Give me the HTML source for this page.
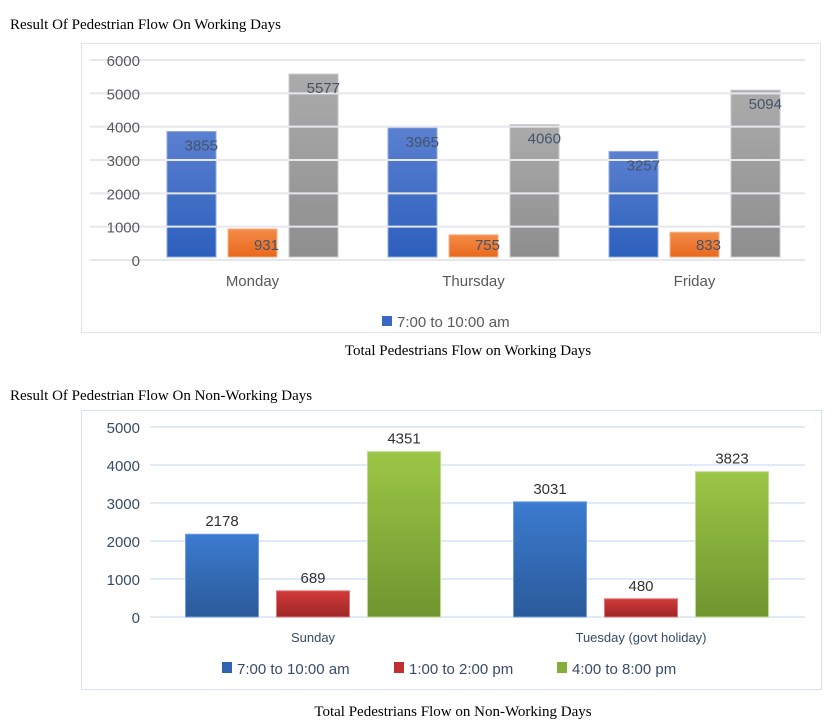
<!DOCTYPE html>
<html><head><meta charset="utf-8"><style>
html,body{margin:0;padding:0;background:#fff;width:838px;height:727px;overflow:hidden}
svg text{font-family:"Liberation Sans",sans-serif}
.serif{font-family:"Liberation Serif",serif!important}
</style></head><body>
<svg id="s" width="838" height="727">
<defs>
<linearGradient id="gBlue" x1="0" y1="0" x2="0" y2="1"><stop offset="0" stop-color="#5b80d0"/><stop offset="1" stop-color="#2c5fbc"/></linearGradient>
<linearGradient id="gOrange" x1="0" y1="0" x2="0" y2="1"><stop offset="0" stop-color="#f48c48"/><stop offset="1" stop-color="#e8681c"/></linearGradient>
<linearGradient id="gGray" x1="0" y1="0" x2="0" y2="1"><stop offset="0" stop-color="#ababab"/><stop offset="1" stop-color="#8e8e8e"/></linearGradient>
<linearGradient id="gBlue2" x1="0" y1="0" x2="0" y2="1"><stop offset="0" stop-color="#3c7bd0"/><stop offset="1" stop-color="#2a5a9a"/></linearGradient>
<linearGradient id="gRed" x1="0" y1="0" x2="0" y2="1"><stop offset="0" stop-color="#d23a3a"/><stop offset="1" stop-color="#9e2626"/></linearGradient>
<linearGradient id="gGreen" x1="0" y1="0" x2="0" y2="1"><stop offset="0" stop-color="#9cc646"/><stop offset="1" stop-color="#6f9530"/></linearGradient>
</defs>
<text class="serif" x="10" y="29" font-size="15" fill="#000">Result Of Pedestrian Flow On Working Days</text>
<rect x="81.5" y="43.5" width="739" height="289" fill="#fff" stroke="#dfe3ea"/>
<text class="serif" x="468" y="355" font-size="15" text-anchor="middle">Total Pedestrians Flow on Working Days</text>
<text class="serif" x="10" y="400" font-size="15">Result Of Pedestrian Flow On Non-Working Days</text>
<rect x="81.5" y="410.5" width="740" height="279" fill="#fff" stroke="#d6e3f2"/>
<text class="serif" x="453" y="716" font-size="15" text-anchor="middle">Total Pedestrians Flow on Non-Working Days</text>
<g id="c1"></g><g id="c2"></g>
</svg>
<script>
// Chart 1 data
const cats1 = ["Monday","Thursday","Friday"];
const morning1 = [3855,3965,3257];
const noon1 = [931,755,833];
const evening1 = [5577,4060,5094];
const ticks1 = [0,1000,2000,3000,4000,5000,6000];
// Chart 2 data
const cats2 = ["Sunday","Tuesday (govt holiday)"];
const morning2 = [2178,3031];
const noon2 = [689,480];
const evening2 = [4351,3823];
const ticks2 = [0,1000,2000,3000,4000,5000];
const legend2 = ["7:00 to 10:00 am","1:00 to 2:00 pm","4:00 to 8:00 pm"];

const NS="http://www.w3.org/2000/svg";
function mk(p,t,a){const e=document.createElementNS(NS,t);for(const k in a)e.setAttribute(k,a[k]);p.appendChild(e);return e;}

// chart 1
(function(){
const g=document.getElementById('c1');
const x0=142,x1=805,y0=260,ymax=6000,h=200;
const y=v=>y0-v/ymax*h;
const band=(x1-x0)/cats1.length;
const bw=49,gap=61;
const series=[[morning1,'url(#gBlue)','#8fa9df'],[noon1,'url(#gOrange)','#f7b18a'],[evening1,'url(#gGray)','#c8c8c8']];
cats1.forEach((c,i)=>{
  const cx=x0+band*(i+0.5);
  series.forEach((s,j)=>{
    const v=s[0][i];const bx=cx+(j-1)*gap-bw/2;
    const r=mk(g,'rect',{x:bx,y:y(v),width:bw,height:y0-3-y(v),fill:s[1],stroke:s[2],'stroke-width':1});
    
    
  });
});
ticks1.forEach(t=>{
  const l=mk(g,'line',{x1:90,x2:x1,y1:y(t),y2:y(t),stroke:'#e6e8ee','stroke-width':2});
  
  
  const tx=mk(g,'text',{x:140,y:y(t)+6,'font-size':15,'text-anchor':'end',fill:'#595959'});tx.textContent=t;
  
  
});
cats1.forEach((c,i)=>{
  const cx=x0+band*(i+0.5);
  series.forEach((s,j)=>{
    const v=s[0][i];const bx=cx+(j-1)*gap-bw/2;
    const ly=j===1?y0-10:y(v)+19;
    const tx=mk(g,'text',{x:bx+bw+2,y:ly,'font-size':15,'text-anchor':'end',fill:'#44546a'});tx.textContent=v;
    
    
  });
  const tx=mk(g,'text',{x:cx,y:286,'font-size':15,'text-anchor':'middle',fill:'#595959'});tx.textContent=c;
  
  
});
const sq=mk(g,'rect',{x:382,y:316,width:10,height:10,fill:'#3a66c4'});


const lt=mk(g,'text',{x:397,y:327,'font-size':15,fill:'#595959'});lt.textContent='7:00 to 10:00 am';


})();

// chart 2
(function(){
const g=document.getElementById('c2');
const x0=149,x1=805,y0=617,ymax=5000,h=190;
const y=v=>y0-v/ymax*h;
const band=(x1-x0)/cats2.length;
const bw=73,gap=91;
const series=[[morning2,'url(#gBlue2)','#6f9ede'],[noon2,'url(#gRed)','#e07a7a'],[evening2,'url(#gGreen)','#bcdc88']];
ticks2.forEach(t=>{
  const l=mk(g,'line',{x1:150,x2:x1,y1:y(t),y2:y(t),stroke:'#d6e4f5','stroke-width':1.5});
  
  
  const tx=mk(g,'text',{x:140,y:y(t)+6,'font-size':15,'text-anchor':'end',fill:'#3a4a6a'});tx.textContent=t;
  
  
});
cats2.forEach((c,i)=>{
  const cx=x0+band*(i+0.5);
  series.forEach((s,j)=>{
    const v=s[0][i];const bx=cx+(j-1)*gap-bw/2;
    const r=mk(g,'rect',{x:bx,y:y(v),width:bw,height:y0-y(v),fill:s[1],stroke:s[2],'stroke-width':1});
    
    
    const tx=mk(g,'text',{x:bx+bw/2,y:y(v)-8,'font-size':15,'text-anchor':'middle',fill:'#333'});tx.textContent=v;
    
    
  });
  const tx=mk(g,'text',{x:cx,y:642,'font-size':13,'text-anchor':'middle',fill:'#3a4a6a'});tx.textContent=c;
  
  
});
const lx=[222,394,557],cols=['#2e64b0','#c03030','#86ad3a'];
legend2.forEach((l,i)=>{
  const sq=mk(g,'rect',{x:lx[i],y:662,width:10,height:11,fill:cols[i]});
  
  
  const tx=mk(g,'text',{x:lx[i]+15,y:674,'font-size':15,fill:'#3a4a6a'});tx.textContent=l;
  
  
});
})();
</script>
</body></html>
